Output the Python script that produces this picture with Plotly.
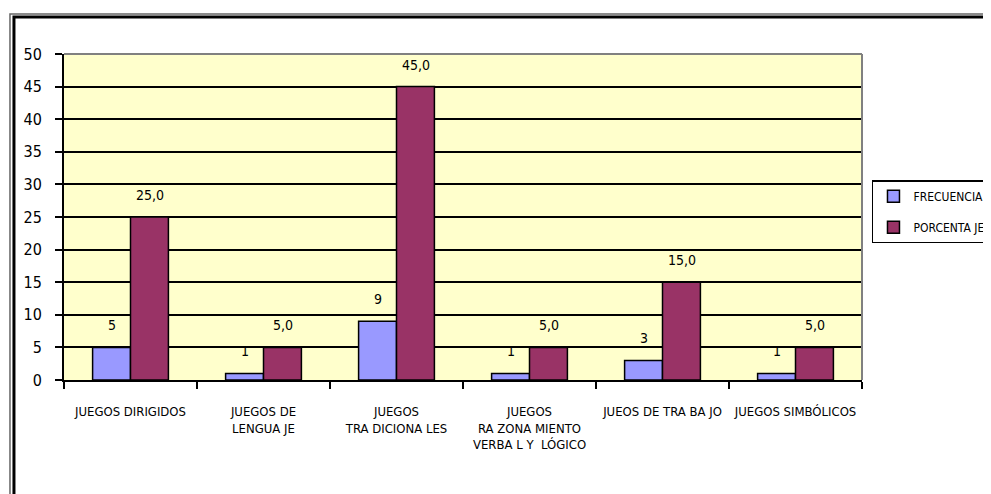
import plotly.graph_objects as go

categories = ["JUEGOS DIRIGIDOS", "JUEGOS DE<br>LENGUA JE", "JUEGOS<br>TRA DICIONA LES",
              "JUEGOS<br>RA ZONA MIENTO<br>VERBA L Y  LÓGICO", "JUEOS DE TRA BA JO", "JUEGOS SIMBÓLICOS"]
frecuencia = [5, 1, 9, 1, 3, 1]
porcentaje = [25.0, 5.0, 45.0, 5.0, 15.0, 5.0]
y_ticks = [0, 5, 10, 15, 20, 25, 30, 35, 40, 45, 50]

FONT = "DejaVu Sans Condensed, Liberation Sans Narrow, Arial Narrow, sans-serif"

fig = go.Figure()
fig.add_trace(go.Bar(
    x=categories, y=frecuencia, name="FRECUENCIA", legendgroup="f",
    marker=dict(color="#9999FF", line=dict(color="black", width=1.5)),
))
fig.add_trace(go.Bar(
    x=categories, y=porcentaje, name="PORCENTA JE", legendgroup="p",
    marker=dict(color="#993366", line=dict(color="black", width=1.5)),
))

# data labels
for c, v in zip(categories, frecuencia):
    fig.add_annotation(x=c, y=v, text=f"{v}", showarrow=False, xshift=-19, yshift=22,
                       yanchor="middle", font=dict(family=FONT, size=14, color="black"))
for c, v in zip(categories, porcentaje):
    fig.add_annotation(x=c, y=v, text=f"{v:.1f}".replace(".", ","), showarrow=False,
                       xshift=19, yshift=22, yanchor="middle",
                       font=dict(family=FONT, size=14, color="black"))

fig.update_layout(
    width=983, height=486,
    margin=dict(l=56, r=129, t=46, b=114, autoexpand=False),
    paper_bgcolor="white", plot_bgcolor="#FFFFCC",
    barmode="group", bargap=0.43, bargroupgap=0,
    font=dict(family=FONT, color="black"),
    legend=dict(x=1.0125, y=0.613, xanchor="left", yanchor="top",
                bordercolor="black", borderwidth=1.5, bgcolor="white",
                font=dict(family=FONT, size=12, color="black"),
                tracegroupgap=12, itemwidth=30),
    showlegend=True,
)
fig.update_xaxes(
    automargin=False,
    showline=True, linecolor="black", linewidth=2,
    ticks="outside", tickson="boundaries", ticklen=7, tickcolor="black", tickwidth=2,
    tickfont=dict(family=FONT, size=13, color="black"), tickangle=0,
    ticklabelstandoff=18,
    showgrid=False,
)
fig.update_yaxes(
    automargin=False,
    range=[0, 50], tickvals=y_ticks,
    showline=True, linecolor="black", linewidth=2,
    ticks="outside", ticklen=7, tickcolor="black", tickwidth=2,
    tickfont=dict(family=FONT, size=16, color="black"),
    ticklabelstandoff=10,
    showgrid=True, gridcolor="black", gridwidth=1.5, zeroline=False,
)
# plot area top/right border in gray
fig.add_shape(type="line", xref="paper", yref="paper", x0=0, x1=1, y0=1, y1=1,
              line=dict(color="#808080", width=2), layer="above")
fig.add_shape(type="line", xref="paper", yref="paper", x0=1, x1=1, y0=0, y1=1,
              line=dict(color="#808080", width=2), layer="above")
# outer chart frame (double border, extends past right/bottom edges)
fig.add_shape(type="rect", xref="paper", yref="paper", x0=-0.0677, x1=1.3, y0=-0.6, y1=1.1227,
              line=dict(color="#666666", width=1.5), layer="above")
fig.add_shape(type="rect", xref="paper", yref="paper", x0=-0.0627, x1=1.3, y0=-0.6, y1=1.1135,
              line=dict(color="black", width=3), layer="above")

fig.write_html("out.html")
